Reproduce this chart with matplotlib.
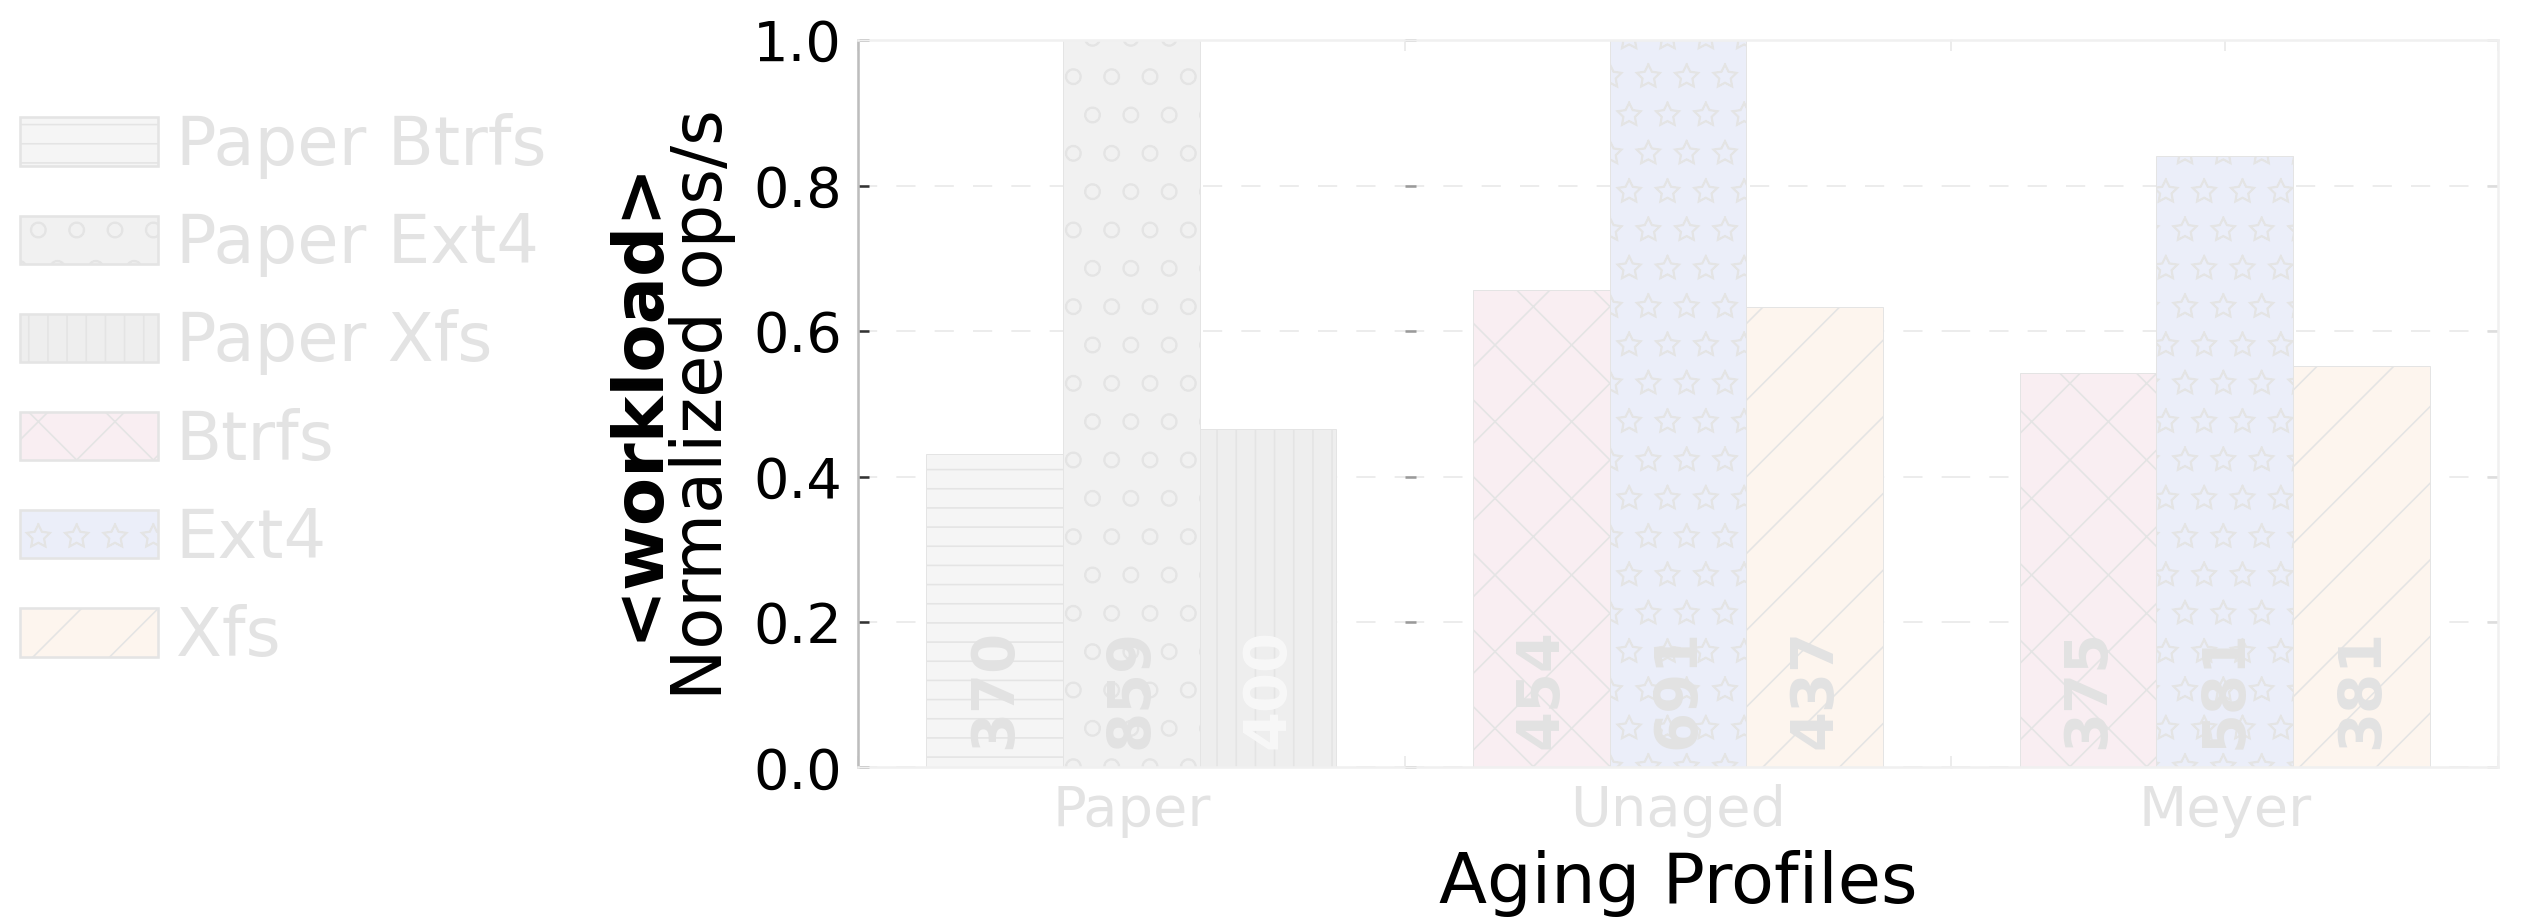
import numpy as np
import matplotlib
import matplotlib.pyplot as plt
from matplotlib.patches import Patch

plt.rcParams['hatch.linewidth'] = 0.5
plt.rcParams['lines.scale_dashes'] = False
# outlined stars instead of solid ones for the '*' hatch
matplotlib.hatch.Stars.filled = False

profiles = ["Paper", "Unaged", "Meyer"]
fs_names = ["Btrfs", "Ext4", "Xfs"]

# measured throughput (ops/s), Btrfs / Ext4 / Xfs
paper_ops = [370, 859, 400]
unaged_ops = [454, 691, 437]
meyer_ops = [375, 581, 381]

y_ticks = [0.0, 0.2, 0.4, 0.6, 0.8, 1.0]

# paper numbers are scaled by their own best result, the aged runs by the unaged best
paper_norm = np.array(paper_ops) / max(paper_ops)
aged_base = max(unaged_ops)
unaged_norm = np.array(unaged_ops) / aged_base
meyer_norm = np.array(meyer_ops) / aged_base

paper_style = [dict(fc='#f5f5f5', hatch='--'),
               dict(fc='#f1f1f1', hatch='o'),
               dict(fc='#eeeeee', hatch='||')]
aged_style = [dict(fc='#f9eef2', hatch='x'),
              dict(fc='#ebeef9', hatch='*'),
              dict(fc='#fdf5ee', hatch='/')]
hatch_col = '#e4e4e4'
faint = '#e3e3e3'

fig = plt.figure(figsize=(10.97, 4.005), dpi=230)
W, H = 2523.0, 921.0
ax_w = 546.7 / W
ax_b = 153.5 / H
ax_h = 727.3 / H
left0 = 858.0 / W

groups = [
    (profiles[0], paper_ops, paper_norm, paper_style, ['#e2e2e2', '#e2e2e2', '#f8f8f8']),
    (profiles[1], unaged_ops, unaged_norm, aged_style, ['#e2e2e2'] * 3),
    (profiles[2], meyer_ops, meyer_norm, aged_style, ['#e2e2e2'] * 3),
]

axes = []
for i, (name, ops, norm, styles, lab_cols) in enumerate(groups):
    ax = fig.add_axes([left0 + i * ax_w, ax_b, ax_w, ax_h])
    axes.append(ax)
    xs = np.arange(len(ops)) - 1
    for x, h, v, st, lc in zip(xs, norm, ops, styles, lab_cols):
        ax.bar(x, h, width=1.0, color=st['fc'], hatch=st['hatch'],
               edgecolor=hatch_col, linewidth=0.3, zorder=2)
        ax.text(x, 0.025, str(v), rotation=90, ha='center', va='bottom',
                fontsize=18, fontweight='bold', color=lc, zorder=3)
    ax.set_xlim(-2, 2)
    ax.set_ylim(0, 1.0)
    ax.set_yticks(y_ticks)
    ax.set_axisbelow(True)
    ax.yaxis.grid(True, color='#ececec', linestyle=(0, (6, 6)), linewidth=0.6)

    ax.set_xticks([0])
    ax.set_xticklabels([name])
    ax.set_xticks([-2, 2], minor=True)
    ax.tick_params(axis='x', which='both', direction='in', length=3.5, width=0.6,
                   color='#ececec', top=True, bottom=True)
    ax.tick_params(axis='x', which='major', labelsize=17.5, labelcolor=faint, pad=5)

    for side in ['top', 'bottom', 'right', 'left']:
        ax.spines[side].set_color('#f0f0f0')
        ax.spines[side].set_linewidth(0.8)

    if i == 0:
        ax.spines['left'].set_color('#bdbdbd')
        ax.spines['right'].set_visible(False)
        ax.tick_params(axis='y', direction='in', length=3.5, width=0.8,
                       color='#333333', labelsize=17.5, pad=5)
    elif i == 1:
        ax.spines['left'].set_visible(False)
        ax.spines['right'].set_visible(False)
        ax.tick_params(axis='y', direction='in', length=3.5, width=0.8,
                       color='#9a9a9a', labelleft=False)
    else:
        ax.spines['left'].set_visible(False)
        ax.tick_params(axis='y', direction='in', length=3.5, width=0.8,
                       color='#dddddd', labelleft=False, left=False, right=True)

axes[1].set_xlabel("Aging Profiles", fontsize=22)
axes[1].xaxis.set_label_coords(0.5, -0.1127)

fig.text(637 / W, 1 - 400 / H, "<workload>", rotation=90, ha='center', va='center',
         fontsize=22, fontweight='bold')
fig.text(702 / W, 1 - 404 / H, "Normalized ops/s", rotation=90, ha='center',
         va='center', fontsize=21.5)

handles = []
labels = []
for n, st in zip(fs_names, paper_style):
    handles.append(Patch(facecolor=st['fc'], edgecolor=hatch_col, hatch=st['hatch'], linewidth=0.8))
    labels.append("Paper " + n)
for n, st in zip(fs_names, aged_style):
    handles.append(Patch(facecolor=st['fc'], edgecolor=hatch_col, hatch=st['hatch'], linewidth=0.8))
    labels.append(n)

fig.legend(handles, labels, loc='upper left', bbox_to_anchor=(20 / W, 1 - 113 / H),
           frameon=False, fontsize=21, labelcolor=faint, handlelength=2.05,
           handleheight=0.73, handletextpad=0.27, labelspacing=0.48,
           borderpad=0, borderaxespad=0)

fig.savefig("out.png", dpi=230)
